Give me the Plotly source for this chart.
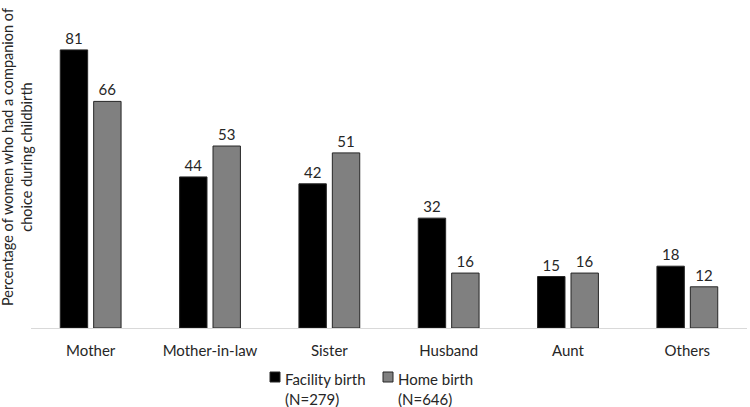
import plotly.graph_objects as go

categories = ["Mother", "Mother-in-law", "Sister", "Husband", "Aunt", "Others"]
facility = [81, 44, 42, 32, 15, 18]
home = [66, 53, 51, 16, 16, 12]
series_names = ["Facility birth<br>(N=279)", "Home birth<br>(N=646)"]
series_colors = ["#000000", "#808080"]
y_title = "Percentage of women who had a companion of<br>choice during childbirth"

FONT = "Lato"
TXT = "#262626"
W, H = 750, 407
L, R, T, B = 31, 3, 19, 79

fig = go.Figure()
for vals, name, col in zip([facility, home], series_names, series_colors):
    fig.add_trace(go.Bar(x=categories, y=vals, name=name,
                         marker=dict(color=col, line=dict(color="#262626", width=1)),
                         text=vals, textposition="outside", cliponaxis=False,
                         textfont=dict(size=15, color=TXT)))

# manual legend (paper coords computed from pixel layout)
pw, ph = W - L - R, H - T - B
def px(x):
    return (x - L) / pw
def py(y):
    return (H - B - y) / ph

legend_x = [270, 383]
for lx, name, col in zip(legend_x, series_names, series_colors):
    fig.add_shape(type="rect", xref="paper", yref="paper",
                  x0=px(lx), x1=px(lx + 10), y0=py(382), y1=py(372),
                  fillcolor=col, line=dict(color="#262626", width=1))
    fig.add_annotation(xref="paper", yref="paper", x=px(lx + 13), y=py(368),
                       xanchor="left", yanchor="top", align="left", showarrow=False,
                       text=name, font=dict(size=15, color=TXT))

fig.add_annotation(xref="paper", yref="paper", x=px(17), y=py(157),
                   xanchor="center", yanchor="middle", showarrow=False, textangle=-90,
                   text=y_title, font=dict(size=14.5, color=TXT))

fig.update_layout(
    width=W, height=H,
    margin=dict(l=L, r=R, t=T, b=B, autoexpand=False),
    plot_bgcolor="white", paper_bgcolor="white",
    font=dict(family=FONT, size=15, color=TXT),
    barmode="group", bargap=0.44, bargroupgap=0.18,
    showlegend=False,
    xaxis=dict(showline=True, linecolor="#d9d9d9", linewidth=1, ticks="",
               tickfont=dict(size=15), automargin=False, ticklabelstandoff=9),
    yaxis=dict(range=[0, 90], showticklabels=False, showgrid=False, zeroline=False,
               automargin=False),
)
fig.write_html("out.html", config={"displayModeBar": False},
               post_script="document.body.style.margin='0';document.body.style.overflow='hidden';")
